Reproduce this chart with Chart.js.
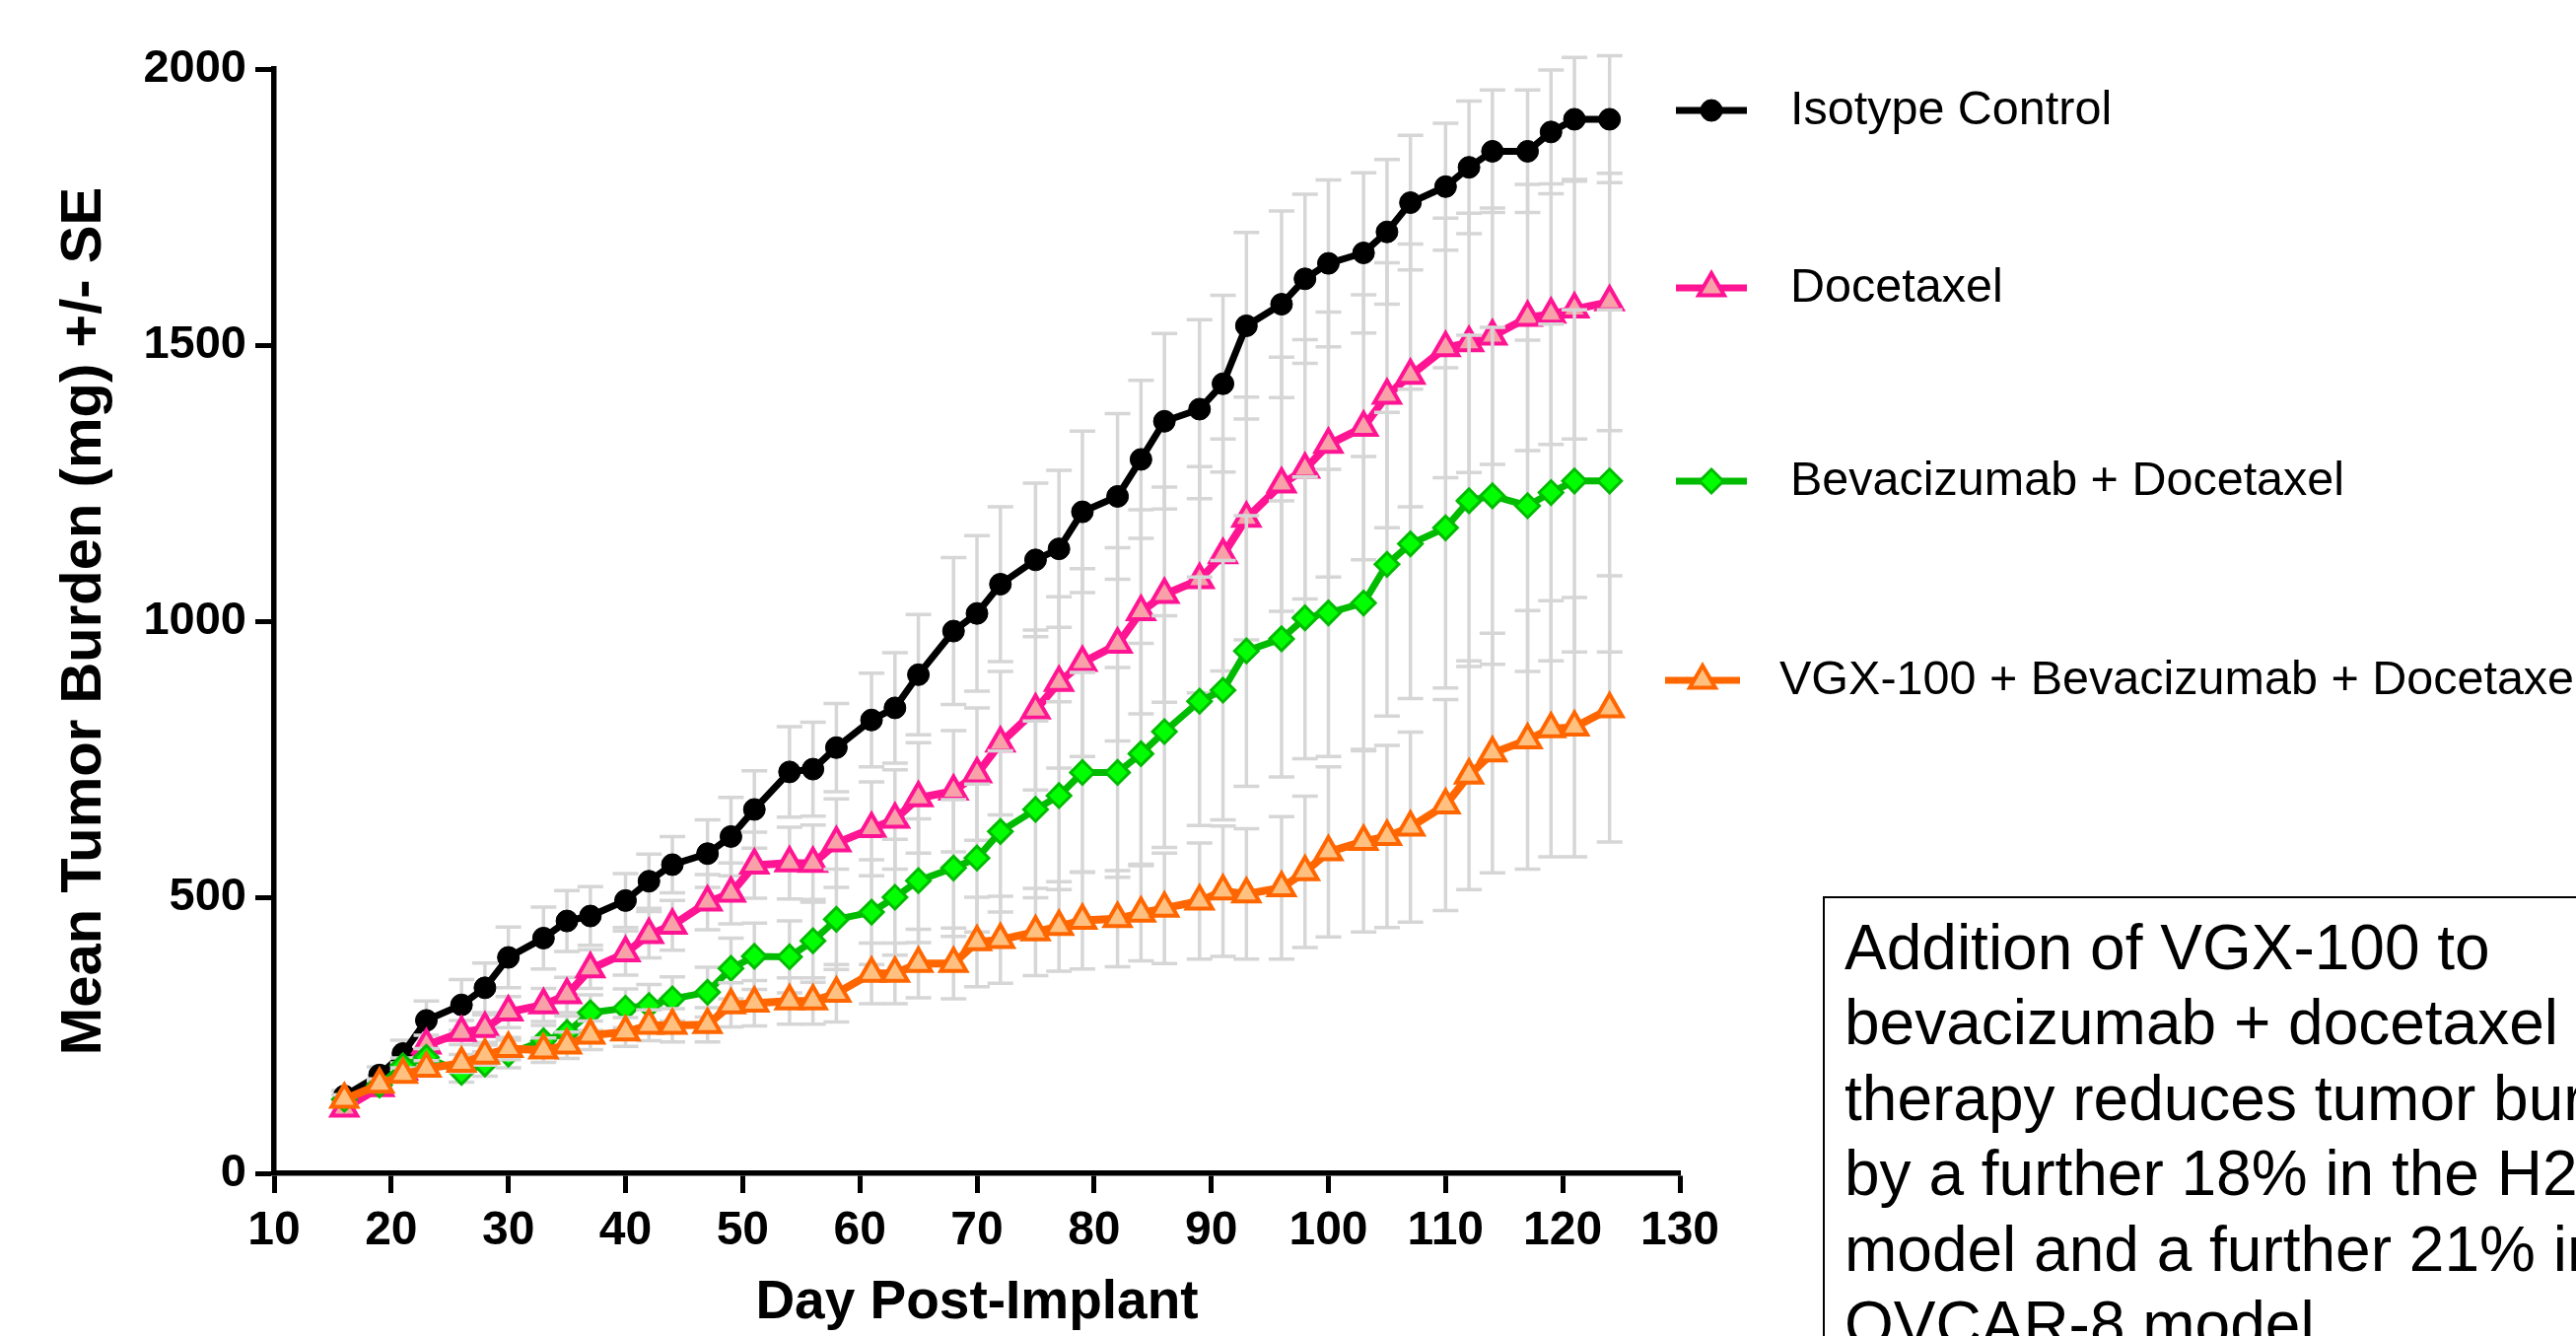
<!DOCTYPE html>
<html>
<head>
<meta charset="utf-8">
<title>Mean Tumor Burden</title>
<script src="https://cdn.jsdelivr.net/npm/chart.js@4.4.0/dist/chart.umd.min.js"></script>
<style>
  html, body { margin: 0; padding: 0; background: #fff; }
  canvas { display: block; }
</style>
</head>
<body>
<canvas id="grafico" width="2613" height="1355"></canvas>
<script>
// dias de medicao
var days = [16, 19, 21, 23, 26, 28, 30, 33, 35, 37, 40, 42, 44, 47, 49, 51, 54, 56, 58, 61, 63, 65, 68, 70,
  72, 75, 77, 79, 82, 84, 86, 89, 91, 93, 96, 98, 100, 103, 105, 107, 110, 112, 114, 117, 119, 121, 124];

var isotype = [140, 178, 217, 277, 305, 336, 391, 426, 457, 466, 494, 529, 559, 579, 610, 659, 727, 732, 771, 821, 843, 903, 982, 1014,
  1067, 1111, 1131, 1198, 1226, 1293, 1362, 1384, 1430, 1535, 1574, 1620, 1648, 1667, 1705, 1758, 1787, 1822, 1851, 1851, 1886, 1909, 1909];
var isotypeSE = [10, 15, 24, 35, 46, 45, 55, 56, 55, 53, 49, 49, 51, 61, 71, 70, 82, 85, 80, 85, 100, 109, 133, 141,
  140, 139, 142, 146, 150, 143, 159, 162, 160, 169, 169, 153, 151, 145, 131, 122, 115, 120, 111, 111, 112, 112, 115];

var docetaxel = [118, 155, 185, 232, 255, 262, 292, 305, 323, 370, 399, 432, 449, 491, 507, 558, 562, 561, 598, 624, 641, 680, 692, 723,
  779, 839, 889, 925, 958, 1017, 1048, 1075, 1120, 1186, 1248, 1275, 1320, 1351, 1409, 1445, 1495, 1504, 1516, 1550, 1556, 1565, 1578];
var docetaxelSE = [8, 12, 15, 18, 22, 25, 28, 30, 32, 35, 40, 42, 45, 50, 55, 60, 65, 70, 80, 85, 90, 100, 110, 120,
  130, 145, 155, 170, 175, 185, 195, 205, 210, 220, 230, 235, 240, 240, 240, 238, 235, 235, 232, 241, 236, 235, 233];

var bevDoc = [134, 160, 195, 210, 183, 198, 216, 240, 255, 291, 299, 304, 316, 328, 371, 393, 392, 421, 460, 473, 500, 530, 553, 571,
  619, 659, 684, 726, 726, 760, 800, 855, 875, 946, 968, 1006, 1015, 1033, 1103, 1140, 1169, 1218, 1227, 1209, 1233, 1254, 1254];
var bevDocSE = [8, 10, 14, 16, 18, 22, 25, 28, 30, 32, 35, 38, 40, 45, 55, 60, 65, 75, 91, 95, 105, 112, 124, 134,
  146, 160, 170, 181, 190, 200, 210, 225, 235, 245, 250, 255, 260, 265, 275, 280, 290, 300, 305, 300, 305, 310, 310];

var vgxBevDoc = [134, 161, 179, 190, 199, 214, 226, 223, 232, 250, 256, 268, 268, 269, 305, 308, 312, 312, 326, 362, 362, 380, 380, 419,
  423, 437, 447, 458, 461, 471, 480, 493, 511, 506, 517, 546, 582, 601, 610, 627, 667, 721, 761, 785, 805, 808, 841];
var vgxBevDocSE = [8, 10, 12, 14, 16, 18, 20, 22, 24, 26, 26, 28, 30, 31, 40, 41, 42, 42, 52, 55, 55, 62, 64, 81,
  79, 79, 81, 88, 87, 86, 100, 105, 118, 118, 129, 137, 154, 164, 165, 172, 191, 207, 217, 234, 232, 235, 241];

var xTicks = [10, 20, 30, 40, 50, 60, 70, 80, 90, 100, 110, 120, 130];
var yTicks = [0, 500, 1000, 1500, 2000];

var boxLines = ['Addition of VGX-100 to', 'bevacizumab + docetaxel', 'therapy reduces tumor burden',
  'by a further 18% in the H292', 'model and a further 21% in the', 'OVCAR-8 model'];

var fonte = "'Liberation Sans', Arial, sans-serif";
Chart.defaults.font.family = fonte;
Chart.defaults.color = '#000';

function pontos(vals) {
  return days.map(function(d, i) { return { x: d, y: vals[i] }; });
}

// barras de erro (SE) desenhadas antes de cada serie
var barrasErro = {
  id: 'barrasErro',
  beforeDatasetDraw: function(chart, args) {
    var ds = chart.data.datasets[args.index];
    if (!ds.se) return;
    var ctx = chart.ctx, y = chart.scales.y;
    ctx.save();
    ctx.strokeStyle = '#d6d6d6';
    ctx.lineWidth = 3.5;
    args.meta.data.forEach(function(pt, i) {
      var v = ds.data[i].y, e = ds.se[i];
      var top = y.getPixelForValue(v + e), bot = y.getPixelForValue(v - e);
      ctx.beginPath();
      ctx.moveTo(pt.x, top); ctx.lineTo(pt.x, bot);
      ctx.moveTo(pt.x - 13, top); ctx.lineTo(pt.x + 13, top);
      ctx.moveTo(pt.x - 13, bot); ctx.lineTo(pt.x + 13, bot);
      ctx.stroke();
    });
    ctx.restore();
  }
};

// legenda e caixa de texto
var legendaCaixa = {
  id: 'legendaCaixa',
  afterDraw: function(chart) {
    var ctx = chart.ctx;
    var rows = [
      { y: 112, x1: 1700, x2: 1772, tx: 1816 },
      { y: 292, x1: 1700, x2: 1772, tx: 1816 },
      { y: 488, x1: 1700, x2: 1772, tx: 1816 },
      { y: 690, x1: 1689, x2: 1765, tx: 1805 }
    ];
    chart.data.datasets.forEach(function(ds, i) {
      var r = rows[i];
      ctx.save();
      ctx.strokeStyle = ds.borderColor;
      ctx.lineWidth = 7;
      ctx.beginPath();
      ctx.moveTo(r.x1, r.y); ctx.lineTo(r.x2, r.y);
      ctx.stroke();
      ctx.fillStyle = ds.pointBackgroundColor;
      ctx.strokeStyle = ds.pointBorderColor;
      ctx.lineWidth = ds.pointBorderWidth;
      Chart.helpers.drawPoint(ctx, { pointStyle: ds.pointStyle, radius: ds.pointRadius, rotation: 0, borderWidth: ds.pointBorderWidth },
        (r.x1 + r.x2) / 2, r.y);
      ctx.fillStyle = '#000';
      ctx.font = '48.5px ' + fonte;
      ctx.textBaseline = 'middle';
      ctx.textAlign = 'left';
      ctx.fillText(ds.label, r.tx, r.y + 1);
      ctx.restore();
    });

    ctx.save();
    ctx.strokeStyle = '#000';
    ctx.lineWidth = 2;
    ctx.strokeRect(1850, 910, 900, 600);
    ctx.fillStyle = '#000';
    ctx.font = '64px ' + fonte;
    ctx.textBaseline = 'alphabetic';
    ctx.textAlign = 'left';
    boxLines.forEach(function(t, i) {
      ctx.fillText(t, 1871, 983 + i * 76.4);
    });
    ctx.restore();
  }
};

var grafico = document.getElementById('grafico');

let chart = new Chart(grafico, {
  type: 'line',
  data: {
    datasets: [{
      label: 'Isotype Control',
      data: pontos(isotype),
      se: isotypeSE,
      borderColor: '#000000',
      borderWidth: 7,
      pointStyle: 'circle',
      pointRadius: 11,
      pointBackgroundColor: '#000000',
      pointBorderColor: '#000000',
      pointBorderWidth: 1,
      order: 3
    }, {
      label: 'Docetaxel',
      data: pontos(docetaxel),
      se: docetaxelSE,
      borderColor: '#ff1493',
      borderWidth: 8,
      pointStyle: 'triangle',
      pointRadius: 15,
      pointBackgroundColor: '#f9a1a8',
      pointBorderColor: '#ff1493',
      pointBorderWidth: 4,
      order: 2
    }, {
      label: 'Bevacizumab + Docetaxel',
      data: pontos(bevDoc),
      se: bevDocSE,
      borderColor: '#00bb00',
      borderWidth: 7,
      pointStyle: 'rectRot',
      pointRadius: 12,
      pointBackgroundColor: '#00ff00',
      pointBorderColor: '#00bb00',
      pointBorderWidth: 3,
      order: 1
    }, {
      label: 'VGX-100 + Bevacizumab + Docetaxel',
      data: pontos(vgxBevDoc),
      se: vgxBevDocSE,
      borderColor: '#ff6600',
      borderWidth: 8,
      pointStyle: 'triangle',
      pointRadius: 15,
      pointBackgroundColor: '#ffc080',
      pointBorderColor: '#ff6600',
      pointBorderWidth: 4,
      order: 0
    }]
  },
  options: {
    responsive: false,
    animation: false,
    devicePixelRatio: 1,
    layout: { padding: { top: 70, right: 909, left: 0, bottom: 0 } },
    elements: { line: { tension: 0 } },
    plugins: { legend: { display: false }, tooltip: { enabled: false } },
    scales: {
      x: {
        type: 'linear',
        min: 10,
        max: 130,
        afterFit: function(scale) { scale.height = 165; },
        afterBuildTicks: function(scale) { scale.ticks = xTicks.map(function(v) { return { value: v }; }); },
        border: { display: true, color: '#000', width: 5.5 },
        grid: { drawOnChartArea: false, drawTicks: true, tickLength: 20, tickWidth: 5, tickColor: '#000' },
        ticks: { font: { size: 48, weight: 'bold' }, padding: 10, maxRotation: 0, autoSkip: false,
          callback: function(v) { return String(v); } },
        title: { display: true, text: 'Day Post-Implant', font: { size: 55, weight: 'bold', lineHeight: 1.2 }, padding: { top: 0, bottom: 0 } }
      },
      y: {
        min: 0,
        max: 2000,
        afterFit: function(scale) { scale.width = 278; },
        afterBuildTicks: function(scale) { scale.ticks = yTicks.map(function(v) { return { value: v }; }); },
        border: { display: true, color: '#000', width: 5.5 },
        grid: { drawOnChartArea: false, drawTicks: true, tickLength: 19, tickWidth: 5, tickColor: '#000' },
        ticks: { font: { size: 47, weight: 'bold' }, padding: 9,
          callback: function(v) { return String(v); } },
        title: { display: true, text: 'Mean Tumor Burden (mg) +/- SE', font: { size: 58, weight: 'bold', lineHeight: 1.2 }, padding: { top: 51, bottom: 0 } }
      }
    }
  },
  plugins: [barrasErro, legendaCaixa]
});
</script>
</body>
</html>
